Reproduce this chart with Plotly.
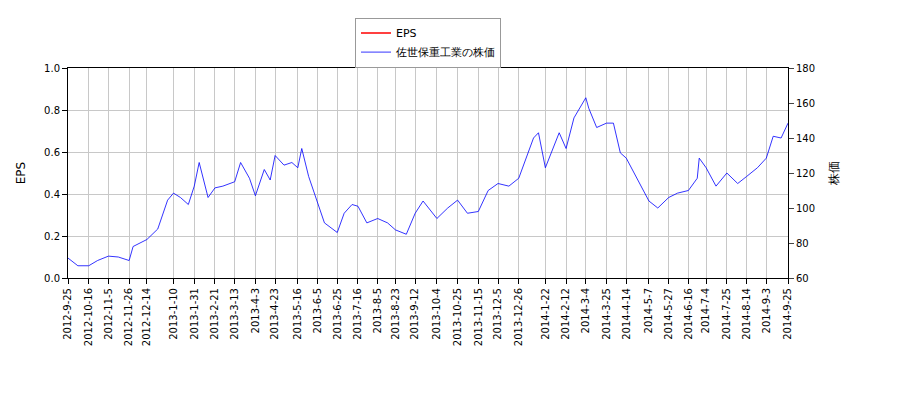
import plotly.graph_objects as go

# stock price readings (approximate)
dates = ["2012-09-25", "2012-10-05", "2012-10-16", "2012-10-25", "2012-11-05", "2012-11-15",
         "2012-11-26", "2012-11-30", "2012-12-14", "2012-12-25", "2013-01-04", "2013-01-10",
         "2013-01-17", "2013-01-25", "2013-01-31", "2013-02-05", "2013-02-14", "2013-02-21",
         "2013-03-01", "2013-03-13", "2013-03-19", "2013-03-28", "2013-04-03", "2013-04-12",
         "2013-04-18", "2013-04-23", "2013-05-02", "2013-05-10", "2013-05-16", "2013-05-20",
         "2013-05-27", "2013-06-05", "2013-06-12", "2013-06-25", "2013-07-02", "2013-07-10",
         "2013-07-16", "2013-07-25", "2013-08-05", "2013-08-15", "2013-08-23", "2013-09-03",
         "2013-09-12", "2013-09-20", "2013-10-04", "2013-10-15", "2013-10-25", "2013-11-04",
         "2013-11-15", "2013-11-25", "2013-12-05", "2013-12-16", "2013-12-26", "2014-01-10",
         "2014-01-15", "2014-01-22", "2014-01-30", "2014-02-05", "2014-02-12", "2014-02-20",
         "2014-03-04", "2014-03-07", "2014-03-15", "2014-03-25", "2014-04-01", "2014-04-08",
         "2014-04-14", "2014-04-25", "2014-05-07", "2014-05-16", "2014-05-27", "2014-06-05",
         "2014-06-16", "2014-06-25", "2014-06-27", "2014-07-04", "2014-07-14", "2014-07-25",
         "2014-08-05", "2014-08-14", "2014-08-25", "2014-09-03", "2014-09-10", "2014-09-18",
         "2014-09-25"]
price = [71.4, 67, 67, 70, 72.5, 72, 70, 78, 82, 88, 104.5, 108.5,
         106, 102, 112.5, 126, 106, 111.5, 112.5, 115, 126, 117, 107, 122,
         116, 130, 124.5, 126, 123, 134, 118, 103, 91.5, 86, 97, 102,
         101, 91.5, 94, 91.5, 87.5, 85, 97, 104, 94, 100, 104.5, 97,
         98, 110, 114, 112.5, 117, 140, 143, 123, 134, 143, 134, 151.5,
         163, 157, 146, 148.5, 148.5, 131.5, 128.5, 117, 104, 100, 106, 108.5,
         110, 117, 128.5, 123, 112.5, 120, 114, 118, 123, 128.5, 141, 140,
         148.5]

tick_dates = ["2012-09-25", "2012-10-16", "2012-11-05", "2012-11-26", "2012-12-14",
              "2013-01-10", "2013-01-31", "2013-02-21", "2013-03-13", "2013-04-03",
              "2013-04-23", "2013-05-16", "2013-06-05", "2013-06-25", "2013-07-16",
              "2013-08-05", "2013-08-23", "2013-09-12", "2013-10-04", "2013-10-25",
              "2013-11-15", "2013-12-05", "2013-12-26", "2014-01-22", "2014-02-12",
              "2014-03-04", "2014-03-25", "2014-04-14", "2014-05-07", "2014-05-27",
              "2014-06-16", "2014-07-04", "2014-07-25", "2014-08-14", "2014-09-03",
              "2014-09-25"]
tick_text = ["-".join(str(int(p)) for p in d.split("-")) for d in tick_dates]

fig = go.Figure()
fig.add_trace(go.Scatter(x=[None], y=[None], name="EPS", mode="lines",
                         line=dict(color="red", width=1.5)))
fig.add_trace(go.Scatter(x=dates, y=price, name="佐世保重工業の株価", mode="lines",
                         line=dict(color="blue", width=0.8), yaxis="y2"))

axis_common = dict(showline=True, linecolor="black", mirror=True, ticks="outside",
                   tickcolor="black", showgrid=True, gridcolor="#c8c8c8", zeroline=False)
fig.update_layout(
    width=900, height=400, paper_bgcolor="white", plot_bgcolor="white",
    margin=dict(l=60, r=120, t=60, b=130, autoexpand=False),
    font=dict(family="DejaVu Sans", size=10, color="black"),
    xaxis=dict(axis_common, type="date", range=["2012-09-25", "2014-09-25"],
               tickvals=tick_dates, ticktext=tick_text, tickangle=-90),
    yaxis=dict(axis_common, title="EPS", range=[0, 1], dtick=0.2, tickformat=".1f"),
    yaxis2=dict(title="株価", range=[60, 180], dtick=20, overlaying="y", side="right",
                showline=True, linecolor="black", ticks="outside", showgrid=False, zeroline=False),
    legend=dict(x=0.5, y=1.24, xanchor="center", yanchor="top", bordercolor="#999",
                borderwidth=1, bgcolor="white", font=dict(size=11)),
)
fig.write_html("out.html")
